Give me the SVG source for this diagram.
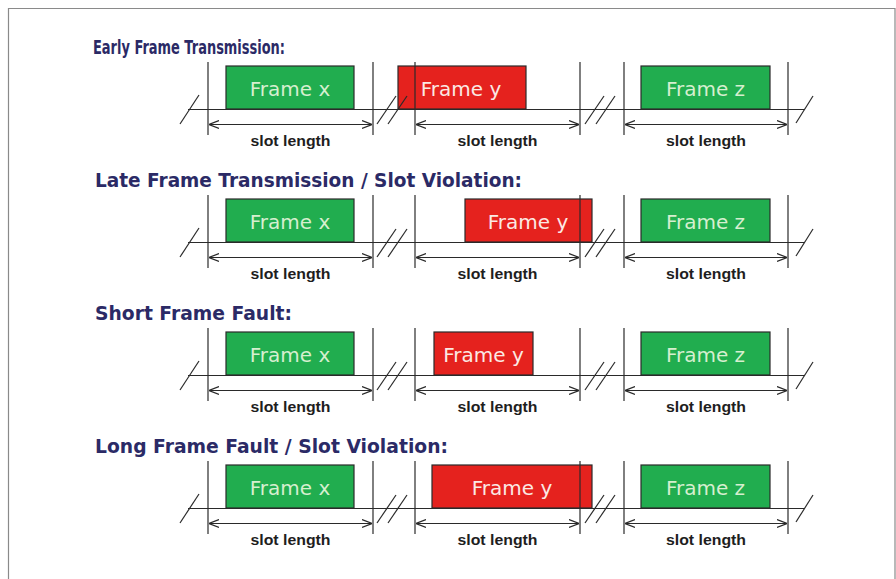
<svg xmlns="http://www.w3.org/2000/svg" xmlns:xlink="http://www.w3.org/1999/xlink" width="896" height="579" viewBox="0 0 896 579">
  <style>
    .title { font-family: "DejaVu Sans", Verdana, sans-serif; font-weight: bold; font-size: 20px; fill: #2b2a66; }
    .fr-ok { fill: #21ad4f; stroke: #2a2a2a; stroke-width: 1.2; }
    .fr-bad { fill: #e5221e; stroke: #2a2a2a; stroke-width: 1.2; }
    .lbl-ok { font-family: "DejaVu Sans", Verdana, sans-serif; font-size: 20px; fill: #d6efcf; text-anchor: middle; }
    .lbl-bad { font-family: "DejaVu Sans", Verdana, sans-serif; font-size: 20px; fill: #fbe9e4; text-anchor: middle; }
    .slot { font-family: "Liberation Sans", Arial, sans-serif; font-weight: bold; font-size: 15px; fill: #1e1e1e; text-anchor: middle; }
    .ln { stroke: #2a2a2a; stroke-width: 1.2; fill: none; }
    .dim { stroke: #2a2a2a; stroke-width: 1.2; fill: none; marker-start: url(#tip); marker-end: url(#tip); }
  </style>
  <defs>
    <marker id="tip" viewBox="0 0 10 10" refX="10" refY="5" markerWidth="10" markerHeight="10" markerUnits="userSpaceOnUse" orient="auto-start-reverse">
      <path d="M0,1 L10,5 L0,9" fill="none" stroke="#2a2a2a" stroke-width="1.2"/>
    </marker>
    <!-- timeline with slot boundaries, breaks and slot-length dimensions -->
    <g id="timeline">
      <line class="ln" x1="188" y1="109.5" x2="805" y2="109.5"/>
      <line class="ln" x1="208" y1="62" x2="208" y2="135"/>
      <line class="ln" x1="373" y1="62" x2="373" y2="135"/>
      <line class="ln" x1="415" y1="62" x2="415" y2="135"/>
      <line class="ln" x1="580" y1="62" x2="580" y2="135"/>
      <line class="ln" x1="624" y1="62" x2="624" y2="135"/>
      <line class="ln" x1="788" y1="62" x2="788" y2="135"/>
      <line class="ln" x1="180" y1="124" x2="199" y2="95"/>
      <line class="ln" x1="377" y1="124" x2="396" y2="96"/>
      <line class="ln" x1="388" y1="124" x2="407" y2="96"/>
      <line class="ln" x1="585" y1="124" x2="604" y2="96"/>
      <line class="ln" x1="596" y1="124" x2="615" y2="96"/>
      <line class="ln" x1="796" y1="123" x2="813" y2="96"/>
      <line class="dim" x1="209" y1="124.5" x2="372" y2="124.5"/>
      <line class="dim" x1="416" y1="124.5" x2="579" y2="124.5"/>
      <line class="dim" x1="625" y1="124.5" x2="787" y2="124.5"/>
      <text class="slot" x="290.5" y="146" textLength="80" lengthAdjust="spacingAndGlyphs">slot length</text>
      <text class="slot" x="497.5" y="146" textLength="80" lengthAdjust="spacingAndGlyphs">slot length</text>
      <text class="slot" x="706" y="146" textLength="80" lengthAdjust="spacingAndGlyphs">slot length</text>
    </g>
  </defs>

  <!-- page frame -->
  <path d="M8.5,579 V8.5 H895 V579" fill="none" stroke="#8a8a8a" stroke-width="1.2"/>

  <!-- 1: early transmission -->
  <g id="row-early">
    <text class="title" x="93" y="54" textLength="192" lengthAdjust="spacingAndGlyphs">Early Frame Transmission:</text>
    <g id="early-frame-x"><rect class="fr-ok" x="226" y="66" width="128" height="43"/><text class="lbl-ok" x="290" y="96">Frame x</text></g>
    <g id="early-frame-y"><rect class="fr-bad" x="398" y="66" width="128" height="43"/><text class="lbl-bad" x="461" y="96">Frame y</text></g>
    <g id="early-frame-z"><rect class="fr-ok" x="641" y="66" width="129" height="43"/><text class="lbl-ok" x="705.5" y="96">Frame z</text></g>
    <g id="early-connectors"><use xlink:href="#timeline"/></g>
  </g>

  <!-- 2: late transmission -->
  <g id="row-late" transform="translate(0,133)">
    <text class="title" x="95" y="54" textLength="427" lengthAdjust="spacingAndGlyphs">Late Frame Transmission / Slot Violation:</text>
    <g id="late-frame-x"><rect class="fr-ok" x="226" y="66" width="128" height="43"/><text class="lbl-ok" x="290" y="96">Frame x</text></g>
    <g id="late-frame-y"><rect class="fr-bad" x="465" y="66" width="127" height="43"/><text class="lbl-bad" x="528" y="96">Frame y</text></g>
    <g id="late-frame-z"><rect class="fr-ok" x="641" y="66" width="129" height="43"/><text class="lbl-ok" x="705.5" y="96">Frame z</text></g>
    <g id="late-connectors"><use xlink:href="#timeline"/></g>
  </g>

  <!-- 3: short frame -->
  <g id="row-short" transform="translate(0,266)">
    <text class="title" x="95" y="54" textLength="197" lengthAdjust="spacingAndGlyphs">Short Frame Fault:</text>
    <g id="short-frame-x"><rect class="fr-ok" x="226" y="66" width="128" height="43"/><text class="lbl-ok" x="290" y="96">Frame x</text></g>
    <g id="short-frame-y"><rect class="fr-bad" x="434" y="66" width="99" height="43"/><text class="lbl-bad" x="483.5" y="96">Frame y</text></g>
    <g id="short-frame-z"><rect class="fr-ok" x="641" y="66" width="129" height="43"/><text class="lbl-ok" x="705.5" y="96">Frame z</text></g>
    <g id="short-connectors"><use xlink:href="#timeline"/></g>
  </g>

  <!-- 4: long frame -->
  <g id="row-long" transform="translate(0,399)">
    <text class="title" x="95" y="54" textLength="353" lengthAdjust="spacingAndGlyphs">Long Frame Fault / Slot Violation:</text>
    <g id="long-frame-x"><rect class="fr-ok" x="226" y="66" width="128" height="43"/><text class="lbl-ok" x="290" y="96">Frame x</text></g>
    <g id="long-frame-y"><rect class="fr-bad" x="432" y="66" width="160" height="43"/><text class="lbl-bad" x="512" y="96">Frame y</text></g>
    <g id="long-frame-z"><rect class="fr-ok" x="641" y="66" width="129" height="43"/><text class="lbl-ok" x="705.5" y="96">Frame z</text></g>
    <g id="long-connectors"><use xlink:href="#timeline"/></g>
  </g>
</svg>
